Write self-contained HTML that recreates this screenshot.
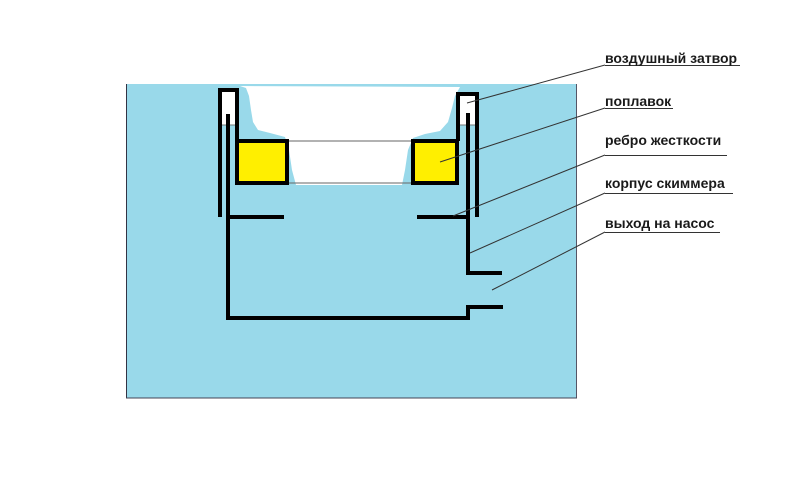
<!DOCTYPE html>
<html><head><meta charset="utf-8"><style>
html,body{margin:0;padding:0;background:#fff;width:800px;height:500px;overflow:hidden}
svg{display:block}
text{font-family:"Liberation Sans",sans-serif;font-weight:bold;font-size:14px;fill:#1a1a1a}
</style></head><body>
<svg width="800" height="500" viewBox="0 0 800 500">
<rect x="126" y="84" width="451" height="314" fill="#99d9ea"/>
<line x1="126.5" y1="84" x2="126.5" y2="398" stroke="#334" stroke-width="1"/>
<line x1="576.5" y1="84" x2="576.5" y2="398" stroke="#556" stroke-width="1"/>
<line x1="126" y1="398" x2="577" y2="398" stroke="#445" stroke-width="1"/>
<polygon fill="#fff" points="240,86 246,88 249,96 251,110 253,122 258,130 270,133 285,137 289,150 292,170 296,185 402,185 405,170 408,150 413,138 425,134 440,131 448,122 452,108 455,96 460,87"/>
<rect x="221" y="91" width="16" height="34" fill="#fff"/>
<rect x="458" y="95" width="19" height="30" fill="#fff"/>
<line x1="221" y1="125" x2="237" y2="125" stroke="#777" stroke-width="1"/>
<line x1="458" y1="125" x2="477" y2="125" stroke="#777" stroke-width="1"/>
<line x1="287" y1="141" x2="413" y2="141" stroke="#666" stroke-width="1"/>
<line x1="287" y1="183" x2="413" y2="183" stroke="#666" stroke-width="1"/>
<rect x="237" y="141" width="50" height="42" fill="#ffef00" stroke="#000" stroke-width="4"/>
<rect x="413" y="141" width="44" height="42" fill="#ffef00" stroke="#000" stroke-width="4"/>
<g fill="none" stroke="#000" stroke-width="4" stroke-linecap="butt">
<polyline points="220,217 220,90 237,90 237,141"/>
<polyline points="477,217 477,94 458,94 458,141"/>
<polyline points="228,114 228,318 468,318 468,307 503,307"/>
<line x1="228" y1="217" x2="284" y2="217"/>
<polyline points="468,113 468,273 502,273"/>
<line x1="417" y1="217" x2="468" y2="217"/>
</g>
<g stroke="#333" stroke-width="1">
<line x1="605" y1="65" x2="467" y2="103"/>
<line x1="605" y1="108" x2="440" y2="162"/>
<line x1="605" y1="155" x2="453" y2="216"/>
<line x1="605" y1="193" x2="470" y2="253"/>
<line x1="605" y1="232" x2="492" y2="290"/>
<line x1="605" y1="65.5" x2="740" y2="65.5"/>
<line x1="605" y1="108.5" x2="673" y2="108.5"/>
<line x1="605" y1="155.5" x2="727" y2="155.5"/>
<line x1="605" y1="193.5" x2="733" y2="193.5"/>
<line x1="605" y1="232.5" x2="720" y2="232.5"/>
</g>
<text x="605" y="63">воздушный затвор</text>
<text x="605" y="106">поплавок</text>
<text x="605" y="145">ребро жесткости</text>
<text x="605" y="188">корпус скиммера</text>
<text x="605" y="228">выход на насос</text>
</svg>
</body></html>
